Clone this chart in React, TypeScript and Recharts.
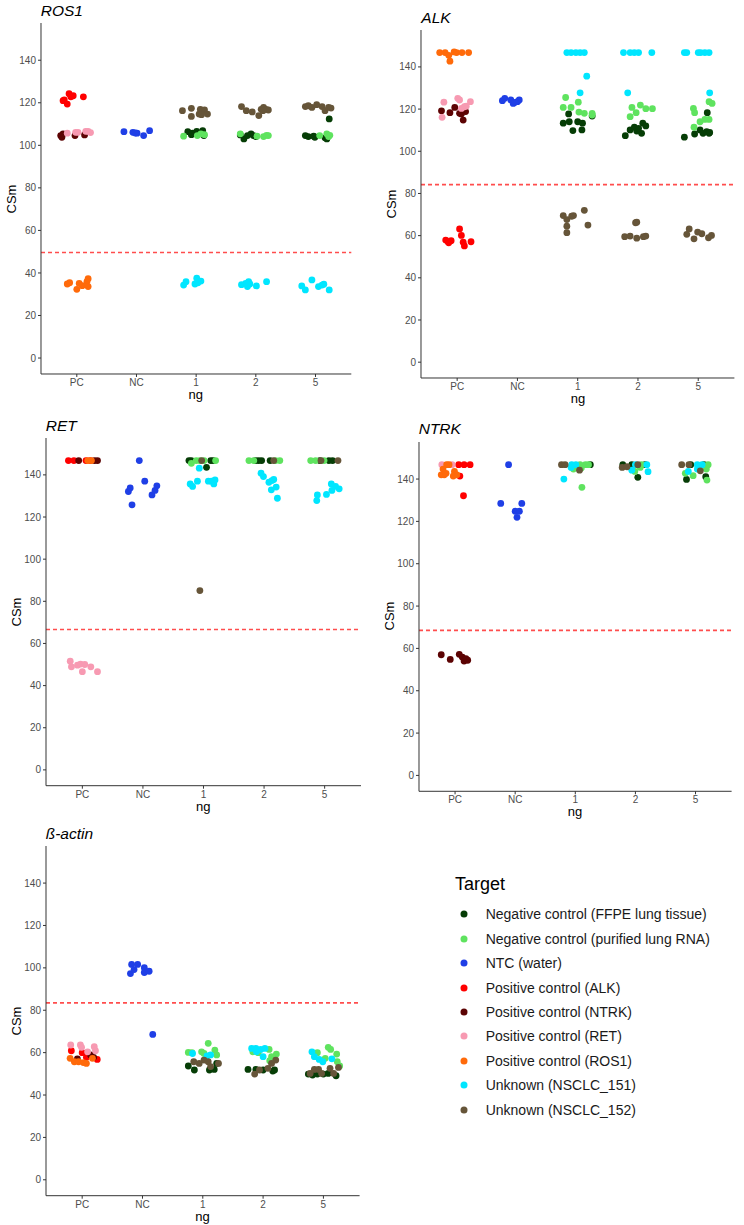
import { ScatterChart, Scatter, XAxis, YAxis, ReferenceLine } from 'recharts';

// point = [dose category, jitter offset (category units), CSm]
type Pt = [string, number, number];

const CATS = ['PC', 'NC', '1', '2', '5'];
const Y_TICKS = [0, 20, 40, 60, 80, 100, 120, 140];

const TARGETS = [
    'Negative control (FFPE lung tissue)',
    'Negative control (purified lung RNA)',
    'NTC (water)',
    'Positive control (ALK)',
    'Positive control (NTRK)',
    'Positive control (RET)',
    'Positive control (ROS1)',
    'Unknown (NSCLC_151)',
    'Unknown (NSCLC_152)',
];
const COLORS = [
    '#063d06', '#5fe35f', '#1f3fe6', '#ff0000', '#5c0303', '#f79ab2', '#ff6a0a', '#00e6ff', '#665539',
];

// ---------- ROS1 ----------
const ROS1_FFPE: Pt[] = [
    ['1', -0.14, 106.4], ['1', -0.08, 105], ['1', 0.01, 106.6], ['1', 0.11, 106.9], ['1', 0.13, 104.6], ['1', -0.06, 105.7],
    ['2', -0.26, 104.9], ['2', -0.2, 103], ['2', -0.14, 104.6], ['2', -0.08, 105.4], ['2', -0.04, 104.6], ['2', 0, 104.1],
    ['5', -0.17, 104.6], ['5', -0.12, 104.1], ['5', -0.03, 104.3], ['5', -0.01, 103.8], ['5', 0.16, 103.5], ['5', 0.19, 103], ['5', 0.23, 112.4],
];
const ROS1_RNA: Pt[] = [
    ['1', -0.21, 104.3], ['1', 0.02, 104.6], ['1', 0.08, 105.4], ['1', 0.14, 105],
    ['2', -0.26, 105.4], ['2', 0.02, 104.3], ['2', 0.13, 104.1], ['2', 0.18, 104.7], ['2', 0.21, 104.6],
    ['5', 0.07, 104.6], ['5', 0.19, 105.4], ['5', 0.22, 104.1], ['5', 0.24, 104.7],
];
const ROS1_NTC: Pt[] = [
    ['NC', -0.21, 106.4], ['NC', -0.06, 106.1], ['NC', 0.01, 105.7], ['NC', 0.12, 104.6], ['NC', 0.22, 106.9], ['NC', -0.02, 105.8],
];
const ROS1_ALK: Pt[] = [
    ['PC', -0.23, 121], ['PC', -0.21, 121.3], ['PC', -0.16, 119.4], ['PC', -0.13, 124.3], ['PC', -0.1, 122.8], ['PC', -0.06, 123.3], ['PC', 0.11, 122.8],
];
const ROS1_NTRK: Pt[] = [
    ['PC', -0.27, 104.6], ['PC', -0.23, 105.4], ['PC', -0.03, 104.6], ['PC', 0.13, 104.9], ['PC', -0.25, 103.8],
];
const ROS1_RET: Pt[] = [
    ['PC', -0.16, 105.7], ['PC', -0.02, 106.1], ['PC', 0.02, 106.1], ['PC', 0.15, 106.6], ['PC', 0.19, 106.6], ['PC', 0.23, 106],
];
const ROS1_ROS1: Pt[] = [
    ['PC', -0.16, 34.8], ['PC', -0.12, 35.4], ['PC', 0, 32.3], ['PC', 0.04, 35.1], ['PC', 0.09, 34], ['PC', 0.17, 35.9], ['PC', 0.19, 37.3], ['PC', 0.19, 33.6],
];
const ROS1_151: Pt[] = [
    ['1', -0.21, 34.3], ['1', -0.17, 35.9], ['1', -0.02, 34.8], ['1', 0.01, 37.5], ['1', 0.08, 36.2], ['1', 0.03, 35.4],
    ['2', -0.24, 34.5], ['2', -0.17, 35.1], ['2', -0.14, 33.6], ['2', -0.12, 35.9], ['2', -0.1, 34.8], ['2', 0.01, 33.9], ['2', 0.18, 35.9],
    ['5', -0.23, 33.9], ['5', -0.17, 32], ['5', -0.06, 36.7], ['5', 0.05, 33.6], ['5', 0.11, 34.3], ['5', 0.14, 34.7], ['5', 0.23, 32],
];
const ROS1_152: Pt[] = [
    ['1', -0.23, 116.3], ['1', -0.08, 117.4], ['1', -0.08, 113.6], ['1', 0.05, 114.7], ['1', 0.07, 116.9], ['1', 0.11, 116.3], ['1', 0.14, 116.7], ['1', 0.19, 114.7], ['1', 0.09, 114.4],
    ['2', -0.24, 118.2], ['2', -0.16, 116.3], ['2', -0.06, 115.7], ['2', 0.05, 114], ['2', 0.09, 116.9], ['2', 0.13, 117.8], ['2', 0.17, 116.9], ['2', 0.21, 116.6], ['2', 0.12, 116.3],
    ['5', -0.17, 118.2], ['5', -0.12, 118.6], ['5', -0.06, 117.8], ['5', 0.02, 119.1], ['5', 0.11, 118.2], ['5', 0.16, 116.3], ['5', 0.22, 117.8], ['5', 0.26, 117.5],
];

// ---------- ALK ----------
const ALK_FFPE: Pt[] = [
    ['1', -0.24, 113.3], ['1', -0.15, 117.7], ['1', -0.14, 114], ['1', -0.08, 109.8], ['1', 0, 114], ['1', 0.07, 110.1], ['1', 0.08, 113.3], ['1', 0.24, 116.7],
    ['2', -0.21, 107.4], ['2', -0.13, 110.1], ['2', -0.06, 111.4], ['2', -0.02, 109.6], ['2', 0.06, 108.5], ['2', 0.08, 113.3], ['2', 0.13, 112], ['2', 0.01, 110.9],
    ['5', -0.23, 106.7], ['5', -0.06, 108.2], ['5', 0.03, 110.1], ['5', 0.08, 108.5], ['5', 0.15, 118.3], ['5', 0.14, 109.3], ['5', 0.18, 108.5], ['5', 0.19, 108.9],
];
const ALK_RNA: Pt[] = [
    ['1', -0.2, 125.5], ['1', -0.24, 120.8], ['1', -0.11, 120.8], ['1', 0.01, 123.3], ['1', 0.02, 118.6], ['1', 0.11, 118], ['1', 0.24, 118], ['1', 0.24, 117.2],
    ['2', -0.13, 116.4], ['2', -0.1, 120.8], ['2', -0.03, 118.3], ['2', 0.04, 121.9], ['2', 0.13, 120.2], ['2', 0.24, 120.2],
    ['5', -0.08, 120.3], ['5', -0.06, 118.3], ['5', -0.07, 111.4], ['5', 0.03, 114], ['5', 0.11, 115.1], ['5', 0.18, 115.1], ['5', 0.18, 123.5], ['5', 0.23, 122.7],
];
const ALK_NTC: Pt[] = [
    ['NC', -0.25, 124], ['NC', -0.21, 125.1], ['NC', -0.11, 124.3], ['NC', -0.07, 122.7], ['NC', 0, 123.5], ['NC', 0.03, 124.3], ['NC', -0.04, 123.2],
];
const ALK_ALK: Pt[] = [
    ['PC', -0.19, 57.9], ['PC', -0.15, 57.1], ['PC', -0.1, 57.6], ['PC', 0.04, 63.2], ['PC', 0.07, 60.1], ['PC', 0.1, 56.9], ['PC', 0.12, 55.1], ['PC', 0.23, 57.1], ['PC', -0.14, 56.6],
];
const ALK_NTRK: Pt[] = [
    ['PC', -0.26, 119.2], ['PC', -0.12, 118.3], ['PC', -0.04, 120.8], ['PC', 0.04, 118], ['PC', 0.1, 114.8], ['PC', 0.14, 118.8], ['PC', 0.07, 117.7],
];
const ALK_RET: Pt[] = [
    ['PC', -0.25, 116.1], ['PC', -0.22, 123.3], ['PC', 0.01, 125.1], ['PC', 0.04, 124.3], ['PC', 0.07, 120.3], ['PC', 0.12, 121.1], ['PC', 0.15, 121.4], ['PC', 0.22, 123.5],
];
const ALK_ROS1: Pt[] = [
    ['PC', -0.29, 146.8], ['PC', -0.2, 146.8], ['PC', -0.14, 145.5], ['PC', -0.12, 142.7], ['PC', -0.05, 147.1], ['PC', -0.01, 146.8], ['PC', 0.08, 146.8], ['PC', 0.19, 146.8],
];
const ALK_151: Pt[] = [
    ['1', -0.18, 146.8], ['1', -0.11, 146.8], ['1', -0.03, 146.8], ['1', 0.04, 146.8], ['1', 0.11, 146.8], ['1', 0.04, 127.7], ['1', 0.15, 135.6],
    ['2', -0.24, 146.8], ['2', -0.13, 146.8], ['2', -0.06, 146.8], ['2', 0.01, 146.8], ['2', 0.23, 146.8], ['2', -0.17, 127.7],
    ['5', -0.23, 146.8], ['5', -0.19, 146.8], ['5', 0, 146.8], ['5', 0.04, 146.8], ['5', 0.11, 146.8], ['5', 0.18, 146.8], ['5', 0.19, 127.7],
];
const ALK_152: Pt[] = [
    ['1', -0.24, 69.5], ['1', -0.18, 67.6], ['1', -0.18, 64.5], ['1', -0.18, 61.4], ['1', -0.1, 69.2], ['1', -0.07, 69.5], ['1', 0.11, 72], ['1', 0.17, 65],
    ['2', -0.22, 59.5], ['2', -0.13, 59.8], ['2', -0.04, 66.1], ['2', -0.02, 66.4], ['2', -0.02, 58.8], ['2', 0.09, 59.5], ['2', 0.13, 59.8],
    ['5', -0.19, 60.6], ['5', -0.15, 63.2], ['5', -0.07, 58.5], ['5', -0.01, 61.7], ['5', 0.06, 60.9], ['5', 0.17, 59], ['5', 0.22, 60.1],
];

// ---------- RET ----------
const RET_FFPE: Pt[] = [
    ['1', -0.24, 146.8], ['1', -0.2, 146.8], ['1', 0.12, 146.8], ['1', 0.16, 146.8], ['1', 0.05, 143.6],
    ['2', -0.14, 146.8], ['2', -0.09, 146.8], ['2', -0.04, 146.8], ['2', 0.1, 146.8],
    ['5', -0.08, 146.8], ['5', 0.07, 146.8], ['5', 0.13, 146.8],
];
const RET_RNA: Pt[] = [
    ['1', -0.12, 146.8], ['1', -0.06, 146.8], ['1', 0.01, 146.8], ['1', 0.2, 146.8], ['1', -0.2, 145.5],
    ['2', -0.25, 146.8], ['2', -0.17, 146.8], ['2', 0.19, 146.8], ['2', 0.26, 146.8],
    ['5', -0.23, 146.8], ['5', -0.15, 146.8], ['5', -0.01, 146.8],
];
const RET_NTC: Pt[] = [
    ['NC', -0.06, 146.8], ['NC', -0.24, 132.1], ['NC', -0.21, 133.8], ['NC', -0.18, 125.8], ['NC', 0.03, 137], ['NC', 0.15, 130.5], ['NC', 0.2, 132.6], ['NC', 0.23, 134.8],
];
const RET_ALK: Pt[] = [
    ['PC', -0.23, 146.8], ['PC', -0.14, 146.8], ['PC', 0.06, 146.8], ['PC', 0.13, 146.8],
];
const RET_NTRK: Pt[] = [
    ['PC', -0.06, 146.8], ['PC', 0.2, 146.8], ['PC', 0.25, 146.8],
];
const RET_RET: Pt[] = [
    ['PC', -0.2, 51.6], ['PC', -0.18, 48.9], ['PC', -0.08, 49.7], ['PC', -0.03, 50.2], ['PC', 0, 46.6], ['PC', 0.04, 50], ['PC', 0.14, 48.9], ['PC', 0.25, 46.6],
];
const RET_ROS1: Pt[] = [
    ['PC', 0.09, 146.8], ['PC', 0.15, 146.8],
];
const RET_151: Pt[] = [
    ['1', -0.07, 143.2], ['1', -0.22, 135.7], ['1', -0.18, 134.5], ['1', -0.1, 137], ['1', 0.08, 137], ['1', 0.13, 137], ['1', 0.17, 135.7], ['1', 0.19, 137.6],
    ['2', -0.05, 140.8], ['2', -0.01, 139.2], ['2', 0.08, 136.5], ['2', 0.13, 137.3], ['2', 0.16, 137.8], ['2', 0.12, 132.9], ['2', 0.2, 134.2], ['2', 0.22, 128.9],
    ['5', -0.13, 127.8], ['5', -0.12, 130.5], ['5', 0.03, 130.7], ['5', 0.12, 132.6], ['5', 0.11, 135.7], ['5', 0.18, 134.5], ['5', 0.24, 133.4],
];
const RET_152: Pt[] = [
    ['1', -0.03, 146.8], ['1', -0.06, 85.1],
    ['2', 0.16, 146.8],
    ['5', -0.06, 146.8], ['5', 0.22, 146.8],
];

// ---------- NTRK ----------
const NTRK_FFPE: Pt[] = [
    ['1', 0.25, 146.8],
    ['2', -0.21, 146.8], ['2', -0.06, 146.8], ['2', 0.16, 146.8], ['2', 0.04, 140.8],
    ['5', -0.08, 146.8], ['5', 0.14, 146.8], ['5', -0.15, 139.8], ['5', 0.17, 141.1],
];
const NTRK_RNA: Pt[] = [
    ['1', 0.08, 146.8], ['1', 0.17, 146.8], ['1', 0.22, 146.8], ['1', -0.03, 144.7], ['1', 0.1, 145.2], ['1', 0.11, 136.1],
    ['2', 0.1, 146.8], ['2', -0.01, 143.6], ['2', 0.08, 145.5],
    ['5', 0.21, 146.8], ['5', -0.17, 142.7], ['5', -0.04, 141.6], ['5', 0.18, 144.7], ['5', 0.19, 139.5],
];
const NTRK_NTC: Pt[] = [
    ['NC', -0.11, 146.8], ['NC', -0.24, 128.5], ['NC', 0.03, 121.9], ['NC', 0, 124.8], ['NC', 0.07, 124.8], ['NC', 0.11, 128.5],
];
const NTRK_ALK: Pt[] = [
    ['PC', 0.06, 146.8], ['PC', 0.15, 146.8], ['PC', 0.25, 146.8], ['PC', 0.08, 141.4], ['PC', 0.14, 132.1],
];
const NTRK_NTRK: Pt[] = [
    ['PC', -0.23, 57], ['PC', -0.08, 54.8], ['PC', 0.07, 57.2], ['PC', 0.12, 55.9], ['PC', 0.15, 54], ['PC', 0.21, 54.4], ['PC', 0.18, 55.2],
];
const NTRK_RET: Pt[] = [
    ['PC', -0.22, 146.8], ['PC', -0.05, 146.8],
];
const NTRK_ROS1: Pt[] = [
    ['PC', -0.1, 146.8], ['PC', -0.14, 146.8], ['PC', -0.2, 144.7], ['PC', -0.18, 142], ['PC', -0.23, 142], ['PC', -0.01, 143.6], ['PC', 0.03, 142], ['PC', -0.03, 141.4], ['PC', -0.15, 142.7],
];
const NTRK_151: Pt[] = [
    ['1', -0.06, 146.8], ['1', 0.01, 146.8], ['1', -0.19, 140], ['1', -0.07, 145.5],
    ['2', 0, 146.8], ['2', 0.19, 146.8], ['2', -0.06, 144.2], ['2', 0.21, 143.5],
    ['5', 0.03, 146.8], ['5', 0.11, 146.8], ['5', -0.12, 143.6], ['5', 0.03, 144.7],
];
const NTRK_152: Pt[] = [
    ['1', -0.23, 146.8], ['1', -0.17, 146.8], ['1', 0.07, 144.2],
    ['2', -0.22, 145.5], ['2', -0.14, 145.8], ['2', 0.04, 146.8],
    ['5', -0.23, 146.8], ['5', -0.11, 146.8], ['5', 0.08, 143.9],
];

// ---------- ß-actin ----------
const ACT_FFPE: Pt[] = [
    ['1', -0.24, 53.7], ['1', -0.14, 51.8], ['1', 0.11, 51.8], ['1', 0.19, 52.1], ['1', 0.23, 54.9],
    ['2', -0.25, 52.1], ['2', -0.12, 52.1], ['2', 0, 51.8], ['2', 0.16, 51.3], ['2', 0.19, 51.8],
    ['5', -0.25, 49.9], ['5', -0.18, 49.4], ['5', -0.1, 49.9], ['5', 0, 49.9], ['5', 0.08, 50.2], ['5', 0.21, 49.1],
];
const ACT_RNA: Pt[] = [
    ['1', -0.24, 60.1], ['1', -0.18, 60], ['1', -0.02, 60.4], ['1', 0.02, 59.6], ['1', 0.09, 64.4], ['1', 0.2, 61.2], ['1', 0.23, 58.9],
    ['2', -0.17, 60.4], ['2', -0.08, 60], ['2', 0.1, 61.5], ['2', 0.11, 56.2], ['2', 0.22, 59.3], ['2', 0.14, 58.1],
    ['5', -0.1, 60], ['5', 0.03, 57.3], ['5', 0.08, 62.5], ['5', 0.12, 61.5], ['5', 0.22, 59.3], ['5', 0.23, 55.7], ['5', 0.27, 53.7],
];
const ACT_NTC: Pt[] = [
    ['NC', -0.2, 97.3], ['NC', -0.18, 101.6], ['NC', -0.14, 99.2], ['NC', -0.08, 101.6], ['NC', 0.03, 100.1], ['NC', 0.03, 97.8], ['NC', 0.11, 98.4], ['NC', 0.17, 68.6],
];
const ACT_ALK: Pt[] = [
    ['PC', -0.18, 60.9], ['PC', 0, 60], ['PC', 0.07, 57.8], ['PC', 0.25, 56.8],
];
const ACT_NTRK: Pt[] = [
    ['PC', -0.08, 57.1], ['PC', 0.14, 58.9], ['PC', 0.19, 57.8],
];
const ACT_RET: Pt[] = [
    ['PC', -0.19, 63.6], ['PC', -0.03, 63.6], ['PC', -0.01, 62.5], ['PC', 0.09, 60.4], ['PC', 0.2, 62.8], ['PC', 0.22, 60.9],
];
const ACT_ROS1: Pt[] = [
    ['PC', -0.2, 57.3], ['PC', -0.13, 55.7], ['PC', -0.06, 55.7], ['PC', 0.02, 55.3], ['PC', 0.07, 54.9], ['PC', 0.17, 57.3],
];
const ACT_151: Pt[] = [
    ['1', -0.17, 59.6], ['1', 0.07, 58.4], ['1', 0.13, 58.9],
    ['2', -0.19, 62], ['2', -0.12, 62], ['2', -0.04, 61.5], ['2', 0.03, 62], ['2', 0, 58.1], ['2', -0.11, 60.4],
    ['5', -0.19, 60.4], ['5', -0.15, 58.1], ['5', -0.07, 56.8], ['5', -0.01, 55.7], ['5', 0.14, 57.1],
];
const ACT_152: Pt[] = [
    ['1', -0.15, 55.7], ['1', -0.06, 54.9], ['1', 0.02, 56.5], ['1', 0.09, 55.7], ['1', 0.13, 53.4], ['1', 0.26, 54.9],
    ['2', -0.14, 49.9], ['2', -0.06, 51.8], ['2', 0.14, 54.9], ['2', 0.21, 56.5], ['2', 0.08, 52.6],
    ['5', -0.22, 50.2], ['5', -0.15, 52.1], ['5', -0.08, 52.1], ['5', -0.03, 50.2], ['5', 0.11, 52.6], ['5', 0.17, 50.2], ['5', 0.25, 53],
];

// cut-off values (dashed lines)
const CUTOFFS = { ROS1: 49.6, ALK: 84.2, RET: 66.6, NTRK: 68.5, ACTIN: 83.5 };

const FONT = '"Liberation Sans", Arial, sans-serif';
const AXIS_COLOR = '#333333';
const TICK_STYLE = { fontSize: 10, fill: '#4d4d4d', fontFamily: FONT };

const toXY = (pts: Pt[]) =>
    pts.map(([cat, dx, y]) => ({ x: CATS.indexOf(cat) + 1 + dx, y }));

interface PanelProps {
    title: string;
    // plot area in page pixels
    l: number;
    t: number;
    r: number;
    b: number;
    cutoff: number;
    series: Pt[][];
}

const Y_AXIS_W = 40;
const X_AXIS_H = 22;

function Panel({ title, l, t, r, b, cutoff, series }: PanelProps) {
    const w = r - l;
    const h = b - t;
    return (
        <>
            <div
                style={{
                    position: 'absolute', left: l, top: t - 22.5, height: 20, lineHeight: '20px',
                    fontSize: 15.5, fontStyle: 'italic', color: '#000', whiteSpace: 'nowrap',
                }}
            >
                {title}
            </div>
            <div style={{ position: 'absolute', left: l - Y_AXIS_W, top: t }}>
                <ScatterChart
                    width={w + Y_AXIS_W + 4}
                    height={h + X_AXIS_H}
                    margin={{ top: 0, right: 4, bottom: 0, left: 0 }}
                >
                    <XAxis
                        type="number"
                        dataKey="x"
                        domain={[0.4, 5.6]}
                        ticks={[1, 2, 3, 4, 5]}
                        tickFormatter={(v: number) => CATS[v - 1]}
                        allowDataOverflow
                        height={X_AXIS_H}
                        stroke={AXIS_COLOR}
                        tickSize={3}
                        tick={TICK_STYLE}
                    />
                    <YAxis
                        type="number"
                        dataKey="y"
                        domain={[-7.5, 157.5]}
                        ticks={Y_TICKS}
                        allowDataOverflow
                        width={Y_AXIS_W}
                        stroke={AXIS_COLOR}
                        tickSize={3}
                        tick={TICK_STYLE}
                    />
                    {series.map((pts, i) => (
                        <Scatter
                            key={TARGETS[i]}
                            name={TARGETS[i]}
                            data={toXY(pts)}
                            fill={COLORS[i]}
                            isAnimationActive={false}
                            shape={(p: any) => <circle cx={p.cx} cy={p.cy} r={3.4} fill={COLORS[i]} />}
                        />
                    ))}
                    <ReferenceLine y={cutoff} stroke="#ff4d4d" strokeWidth={1.6} strokeDasharray="4 3" />
                </ScatterChart>
            </div>
            <div
                style={{
                    position: 'absolute', left: l - 29 - 20, top: t + h / 2 - 8, width: 40, height: 16,
                    lineHeight: '16px', textAlign: 'center', fontSize: 13, color: '#000',
                    transform: 'rotate(-90deg)',
                }}
            >
                CSm
            </div>
            <div
                style={{
                    position: 'absolute', left: l + w / 2 - 20, top: b + 13, width: 40, height: 16,
                    lineHeight: '16px', textAlign: 'center', fontSize: 13, color: '#000',
                }}
            >
                ng
            </div>
        </>
    );
}

function TargetLegend() {
    return (
        <>
            <div style={{ position: 'absolute', left: 455, top: 873, fontSize: 18, color: '#000', lineHeight: '22px' }}>
                Target
            </div>
            {TARGETS.map((name, i) => {
                const cy = 914.3 + i * 24.4;
                return (
                    <div key={name}>
                        <svg
                            width={10}
                            height={10}
                            style={{ position: 'absolute', left: 459.3, top: cy - 5 }}
                        >
                            <circle cx={5} cy={5} r={3.5} fill={COLORS[i]} />
                        </svg>
                        <div
                            style={{
                                position: 'absolute', left: 485.7, top: cy - 9, height: 18, lineHeight: '18px',
                                fontSize: 14, color: '#1a1a1a', whiteSpace: 'nowrap',
                            }}
                        >
                            {name}
                        </div>
                    </div>
                );
            })}
        </>
    );
}

export default function App() {
    return (
        <div
            style={{
                position: 'absolute', left: 0, top: 0, width: 744, height: 1225,
                background: '#fff', fontFamily: FONT, overflow: 'hidden',
            }}
        >
            <Panel
                title="ROS1" l={40.7} t={23} r={351} b={374} cutoff={CUTOFFS.ROS1}
                series={[ROS1_FFPE, ROS1_RNA, ROS1_NTC, ROS1_ALK, ROS1_NTRK, ROS1_RET, ROS1_ROS1, ROS1_151, ROS1_152]}
            />
            <Panel
                title="ALK" l={421.3} t={30} r={734.7} b={378} cutoff={CUTOFFS.ALK}
                series={[ALK_FFPE, ALK_RNA, ALK_NTC, ALK_ALK, ALK_NTRK, ALK_RET, ALK_ROS1, ALK_151, ALK_152]}
            />
            <Panel
                title="RET" l={45.7} t={438} r={360.7} b={785.7} cutoff={CUTOFFS.RET}
                series={[RET_FFPE, RET_RNA, RET_NTC, RET_ALK, RET_NTRK, RET_RET, RET_ROS1, RET_151, RET_152]}
            />
            <Panel
                title="NTRK" l={418.7} t={441.7} r={731.3} b={791} cutoff={CUTOFFS.NTRK}
                series={[NTRK_FFPE, NTRK_RNA, NTRK_NTC, NTRK_ALK, NTRK_NTRK, NTRK_RET, NTRK_ROS1, NTRK_151, NTRK_152]}
            />
            <Panel
                title="ß-actin" l={45.7} t={846} r={359.3} b={1195.7} cutoff={CUTOFFS.ACTIN}
                series={[ACT_FFPE, ACT_RNA, ACT_NTC, ACT_ALK, ACT_NTRK, ACT_RET, ACT_ROS1, ACT_151, ACT_152]}
            />
            <TargetLegend />
        </div>
    );
}
